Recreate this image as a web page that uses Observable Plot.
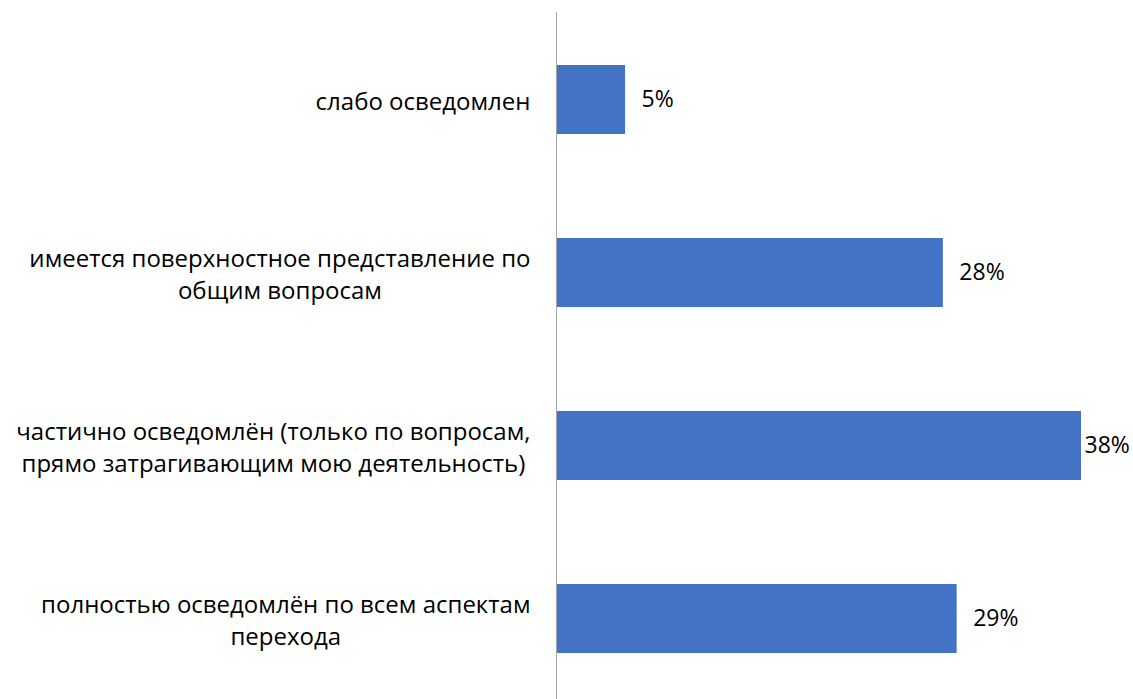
<!DOCTYPE html>
<html>
<head>
<meta charset="utf-8">
<script src="https://cdn.jsdelivr.net/npm/d3@7"></script>
<script src="https://cdn.jsdelivr.net/npm/@observablehq/plot@0.6"></script>
<style>
  html, body { margin: 0; padding: 0; background: #fff; }
  #chart svg { display: block; }
</style>
</head>
<body>
<div id="chart"></div>
<script>
const categories = [
  "слабо осведомлен",
  "имеется поверхностное представление по\nобщим вопросам",
  "частично осведомлён (только по вопросам,\nпрямо затрагивающим мою деятельность)",
  "полностью осведомлён по всем аспектам\nперехода"
];
const values = [5, 28, 38, 29];
const valueLabels = ["5%", "28%", "38%", "29%"];

const data = categories.map((c, i) => ({category: c, value: values[i], label: valueLabels[i]}));
const maxVal = d3.max(values);

const FONT = "Open Sans";
const FS = 24;
const VFS = 23;
const ctx = document.createElement("canvas").getContext("2d");
ctx.font = `${FS}px "${FONT}"`;
const blockWidth = c => d3.max(c.split("\n"), l => ctx.measureText(l).width);

const labelMarks = data.map(d => Plot.text([d], {
  x: () => 0, y: "category", text: "category",
  textAnchor: "middle", lineHeight: 1.33,
  dx: -(26 + blockWidth(d.category) / 2),
  fontSize: FS, fill: "#000"
}));

const chart = Plot.plot({
  width: 1133,
  height: 699,
  marginLeft: 556,
  marginRight: 52,
  marginTop: 12,
  marginBottom: 0,
  style: {fontFamily: FONT, background: "#fff"},
  x: {domain: [0, maxVal], axis: null},
  y: {domain: categories, range: [12.25, 706.25], paddingInner: 0.6, paddingOuter: 0.3, axis: null},
  marks: [
    Plot.barX(data, {x: "value", y: "category", fill: "#4472C4"}),
    Plot.ruleX([0], {stroke: "#a6a6a6", strokeWidth: 1}),
    ...labelMarks,
    Plot.text(data.filter(d => d.value < maxVal), {x: "value", y: "category", text: "label", textAnchor: "start", dx: 16, fontSize: VFS, fill: "#000"}),
    Plot.text(data.filter(d => d.value === maxVal), {x: "value", y: "category", text: "label", textAnchor: "start", dx: 3, fontSize: VFS, fill: "#000"})
  ]
});
document.getElementById("chart").appendChild(chart);
</script>
</body>
</html>
